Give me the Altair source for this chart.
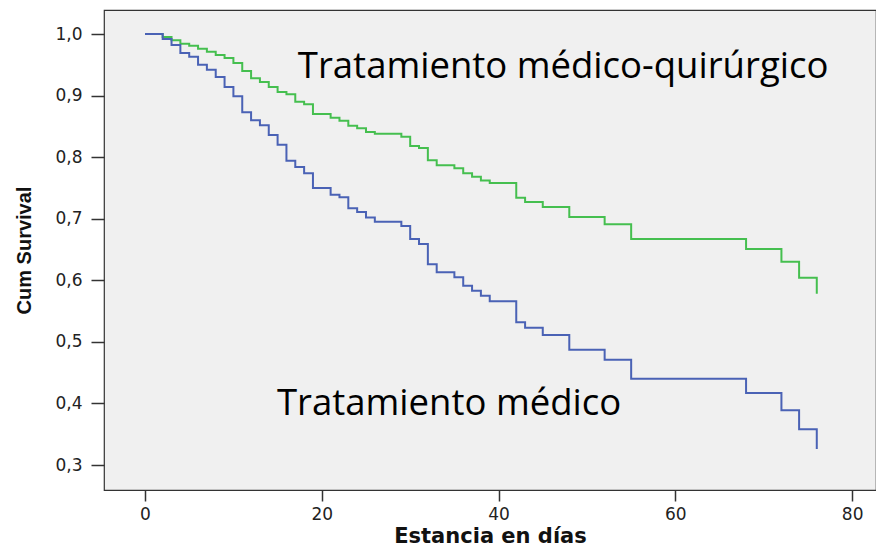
import altair as alt
import pandas as pd

# Kaplan-Meier curves
days_qx = [0, 2, 3, 4, 5, 6, 7, 8, 9, 10, 11, 12, 13, 14, 15, 16, 17, 18, 19,
           21, 22, 23, 24, 25, 26, 29, 30, 31, 32, 33, 35, 36, 37, 38, 39,
           42, 43, 45, 48, 52, 55, 68, 72, 74, 76]
surv_qx = [1.0, 0.995, 0.99, 0.984, 0.981, 0.976, 0.971, 0.966, 0.961, 0.953,
           0.94, 0.928, 0.922, 0.914, 0.906, 0.902, 0.890, 0.886, 0.870,
           0.864, 0.859, 0.851, 0.847, 0.841, 0.838, 0.833, 0.818, 0.815, 0.795,
           0.787, 0.782, 0.774, 0.768, 0.762, 0.758,
           0.734, 0.727, 0.719, 0.703, 0.691, 0.667, 0.651, 0.630, 0.604, 0.578]

days_med = [0, 2, 3, 4, 5, 6, 7, 8, 9, 10, 11, 12, 13, 14, 15, 16, 17, 18, 19,
            21, 22, 23, 24, 25, 26, 29, 30, 31, 32, 33, 35, 36, 37, 38, 39,
            42, 43, 45, 48, 52, 55, 68, 72, 74, 76]
surv_med = [1.0, 0.992, 0.982, 0.969, 0.963, 0.950, 0.942, 0.930, 0.914, 0.899,
            0.873, 0.860, 0.852, 0.836, 0.820, 0.794, 0.784, 0.774, 0.750,
            0.739, 0.735, 0.717, 0.711, 0.702, 0.695, 0.688, 0.667, 0.659, 0.626,
            0.613, 0.605, 0.591, 0.583, 0.575, 0.566,
            0.532, 0.523, 0.511, 0.487, 0.471, 0.440, 0.417, 0.389, 0.358, 0.326]

groups = ["Tratamiento médico-quirúrgico", "Tratamiento médico"]
colors = ["#45BF4F", "#4A62B5"]

x_ticks = [0, 20, 40, 60, 80]
y_ticks = [0.3, 0.4, 0.5, 0.6, 0.7, 0.8, 0.9, 1.0]

label_text = ["Tratamiento médico-quirúrgico", "Tratamiento médico"]
label_day = [47.3, 34.4]
label_surv = [0.9285, 0.3812]

df = pd.concat([
    pd.DataFrame({"dia": days_qx, "surv": surv_qx, "grupo": groups[0]}),
    pd.DataFrame({"dia": days_med, "surv": surv_med, "grupo": groups[1]}),
])
labels = pd.DataFrame({"texto": label_text, "dia": label_day, "surv": label_surv})

xscale = alt.Scale(domain=[-4.64, 82.7], nice=False, zero=False)
yscale = alt.Scale(domain=[0.2594, 1.039], nice=False, zero=False)

lines = alt.Chart(df).mark_line(interpolate="step-after", strokeWidth=2).encode(
    x=alt.X("dia:Q", scale=xscale,
            axis=alt.Axis(values=x_ticks, title="Estancia en días", grid=False,
                          domain=False, tickSize=11, tickColor="#333333",
                          tickWidth=1.5, labelFont="DejaVu Sans", labelFontSize=17,
                          labelColor="#222222", labelPadding=5,
                          titleFont="DejaVu Sans", titleFontSize=21,
                          titleFontWeight="bold", titleColor="#111111",
                          titleY=52, titleBaseline="alphabetic")),
    y=alt.Y("surv:Q", scale=yscale,
            axis=alt.Axis(values=y_ticks, title="Cum Survival", grid=False,
                          domain=False, tickSize=13, tickColor="#333333",
                          tickWidth=1.5, labelFont="DejaVu Sans", labelFontSize=17,
                          labelColor="#222222", labelPadding=9,
                          labelExpr="replace(format(datum.value, '.1f'), '.', ',')",
                          titleFont="Liberation Sans", titleFontSize=20,
                          titleFontWeight="bold", titleColor="#111111",
                          titleX=-80, titleY=240, titleAngle=-90,
                          titleAlign="center", titleBaseline="middle")),
    color=alt.Color("grupo:N", scale=alt.Scale(domain=groups, range=colors), legend=None),
    detail="grupo:N",
)

text = alt.Chart(labels).mark_text(font="Open Sans", fontSize=36.5, color="#000000",
                                   align="center", baseline="alphabetic").encode(
    x=alt.X("dia:Q", scale=xscale),
    y=alt.Y("surv:Q", scale=yscale),
    text="texto:N",
)

chart = alt.layer(lines, text).properties(
    width=772, height=480,
    autosize=alt.AutoSizeParams(type="none"),
    padding={"left": 96, "top": 2, "right": 0, "bottom": 56},
    background="#FFFFFF",
).configure_view(stroke="#333333", strokeWidth=1.2, fill="#F0F0F0")

chart.save("out.html", embed_options={"renderer": "svg", "actions": False})
